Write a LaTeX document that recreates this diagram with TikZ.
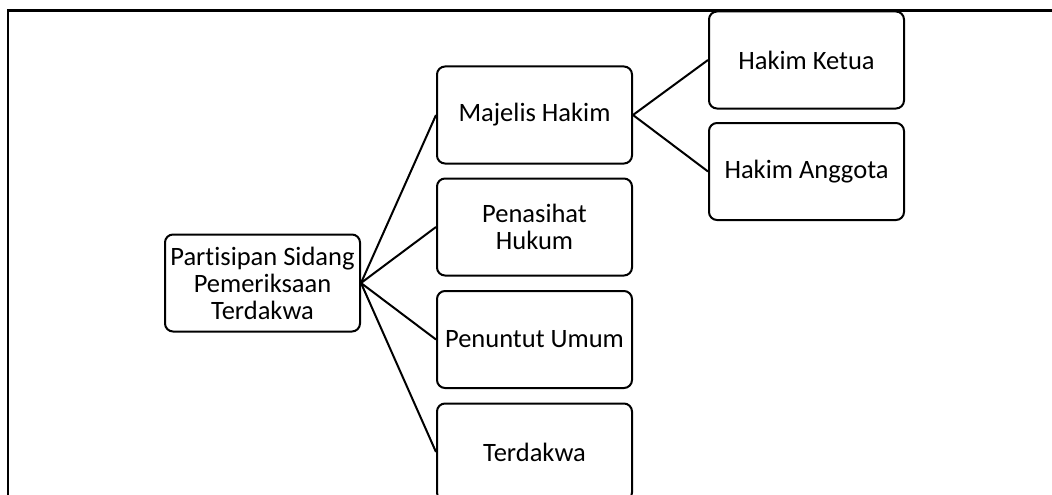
\documentclass[tikz,border=0pt]{standalone}
\usepackage{fontspec}
\setmainfont{Carlito}[RawFeature={-liga;-clig;-dlig}]
\begin{document}
\begin{tikzpicture}[x=1pt,y=-1pt,
  box/.style={draw, line width=2pt, rounded corners=8pt, minimum width=195pt, minimum height=97pt, align=center, font=\fontsize{26.5}{27}\selectfont, inner sep=2pt},
  conn/.style={line width=2pt},
  frame/.style={line width=2.2pt}]
\useasboundingbox (0,0) rectangle (1052,495);
\coordinate (fb) at (8,495);
\coordinate (ftl) at (8,10.5);
\coordinate (fr) at (1052,10.5);
\draw[frame] (fb) -- (ftl) -- (fr);
\node[box] (root) at (262.5,283) {Partisipan Sidang\\Pemeriksaan\\Terdakwa};
\node[box] (mh) at (534.5,115) {Majelis Hakim};
\node[box] (ph) at (534.5,227) {Penasihat\\Hukum};
\node[box] (pu) at (534.5,339.5) {Penuntut Umum};
\node[box] (td) at (534.5,452) {Terdakwa};
\node[box] (hk) at (806.5,60) {Hakim Ketua};
\node[box] (ha) at (806.5,171.5) {Hakim Anggota};
\draw[conn] (root.east) -- (mh.west);
\draw[conn] (root.east) -- (ph.west);
\draw[conn] (root.east) -- (pu.west);
\draw[conn] (root.east) -- (td.west);
\draw[conn] (mh.east) -- (hk.west);
\draw[conn] (mh.east) -- (ha.west);
\end{tikzpicture}
\end{document}
